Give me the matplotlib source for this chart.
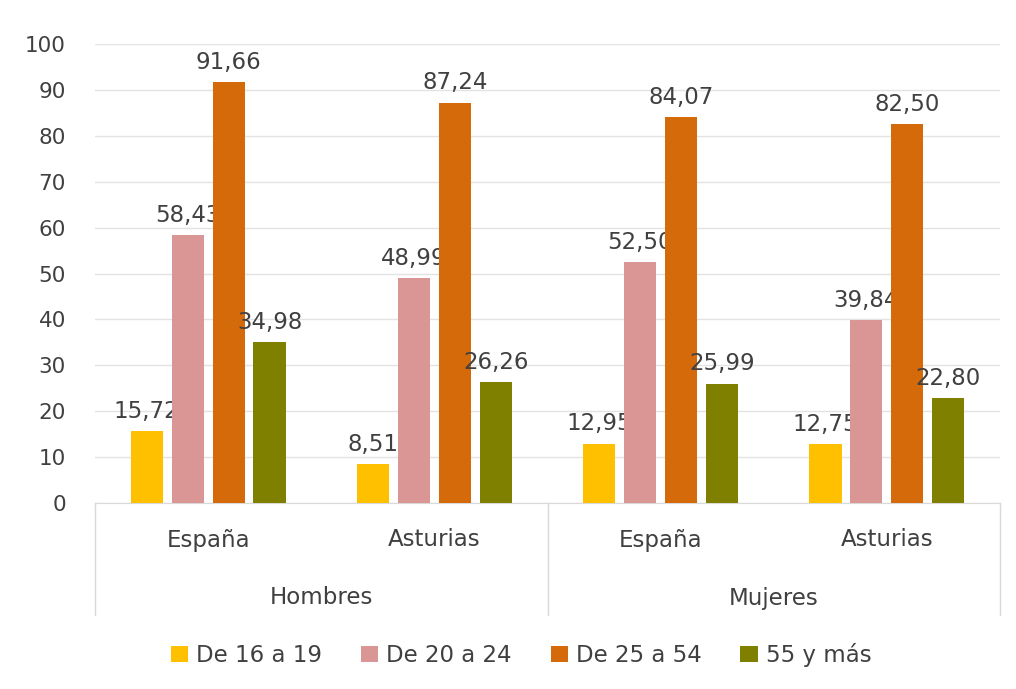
import matplotlib
matplotlib.use("Agg")
import matplotlib.pyplot as plt
import numpy as np

plt.rcParams['font.family'] = ['DejaVu Sans']

groups = ["Hombres", "Mujeres"]
regions = ["España", "Asturias", "España", "Asturias"]
series_names = ["De 16 a 19", "De 20 a 24", "De 25 a 54", "55 y más"]
v_16_19 = [15.72, 8.51, 12.95, 12.75]
v_20_24 = [58.43, 48.99, 52.50, 39.84]
v_25_54 = [91.66, 87.24, 84.07, 82.50]
v_55 = [34.98, 26.26, 25.99, 22.80]
series_values = [v_16_19, v_20_24, v_25_54, v_55]
colors = ["#FFC000", "#D99694", "#D46A0A", "#7F7F00"]
yticks = [0, 10, 20, 30, 40, 50, 60, 70, 80, 90, 100]

fig = plt.figure(figsize=(10.16, 6.89), dpi=100)
W, H = 1016, 689
x0, x1 = 95, 1000
y0, y100 = 503, 44
ax = fig.add_axes([x0 / W, 1 - y0 / H, (x1 - x0) / W, (y0 - y100) / H])

x = np.arange(len(regions))
bw = 0.142
step = 0.181
offsets = (np.arange(4) - 1.5) * step
text_color = "#404040"
fs = 16.5
for i, (name, vals, c) in enumerate(zip(series_names, series_values, colors)):
    ax.bar(x + offsets[i], vals, width=bw, color=c, label=name, zorder=3)
    for xi, v in zip(x + offsets[i], vals):
        ax.text(xi, v + 1.8, f"{v:.2f}".replace(".", ","), ha="center", va="bottom",
                fontsize=fs, color=text_color)

ax.set_xlim(-0.5, 3.5)
ax.set_ylim(0, 100)
ax.set_yticks(yticks)
ax.set_yticklabels([str(t) for t in yticks], fontsize=15.5, color=text_color)
ax.tick_params(axis="y", length=0, pad=30)
ax.set_xticks([])
ax.grid(axis="y", color="#E3E3E3", linewidth=1, zorder=0)
for s in ["top", "right", "left"]:
    ax.spines[s].set_visible(False)
ax.spines["bottom"].set_color("#D9D9D9")

# multi-level category axis
trans = ax.get_xaxis_transform()
sep_depth = (615 - y0) / (y0 - y100)
for xs in [-0.5, 1.5, 3.5]:
    ax.plot([xs, xs], [0, -sep_depth], transform=trans, color="#D9D9D9",
            linewidth=1, clip_on=False)
reg_y = -(540 - y0) / (y0 - y100)
grp_y = -(598 - y0) / (y0 - y100)
for xi, r in zip(x, regions):
    ax.text(xi, reg_y, r, transform=trans, ha="center", va="center",
            fontsize=fs, color=text_color)
for gi, g in enumerate(groups):
    ax.text(gi * 2 + 0.5, grp_y, g, transform=trans, ha="center", va="center",
            fontsize=fs, color=text_color)

leg = fig.legend(loc="center", bbox_to_anchor=(521 / W, 1 - 655 / H), ncol=4,
                 frameon=False, fontsize=fs, handlelength=0.75, handleheight=0.75,
                 handletextpad=0.35, columnspacing=1.7)
for t in leg.get_texts():
    t.set_color(text_color)

# shift y tick labels so their right edge sits near x=65 px
for lbl in ax.get_yticklabels():
    lbl.set_horizontalalignment("right")
ax.yaxis.set_tick_params(pad=(x0 - 66) * 72 / 100)

fig.savefig("out.png", dpi=100)
